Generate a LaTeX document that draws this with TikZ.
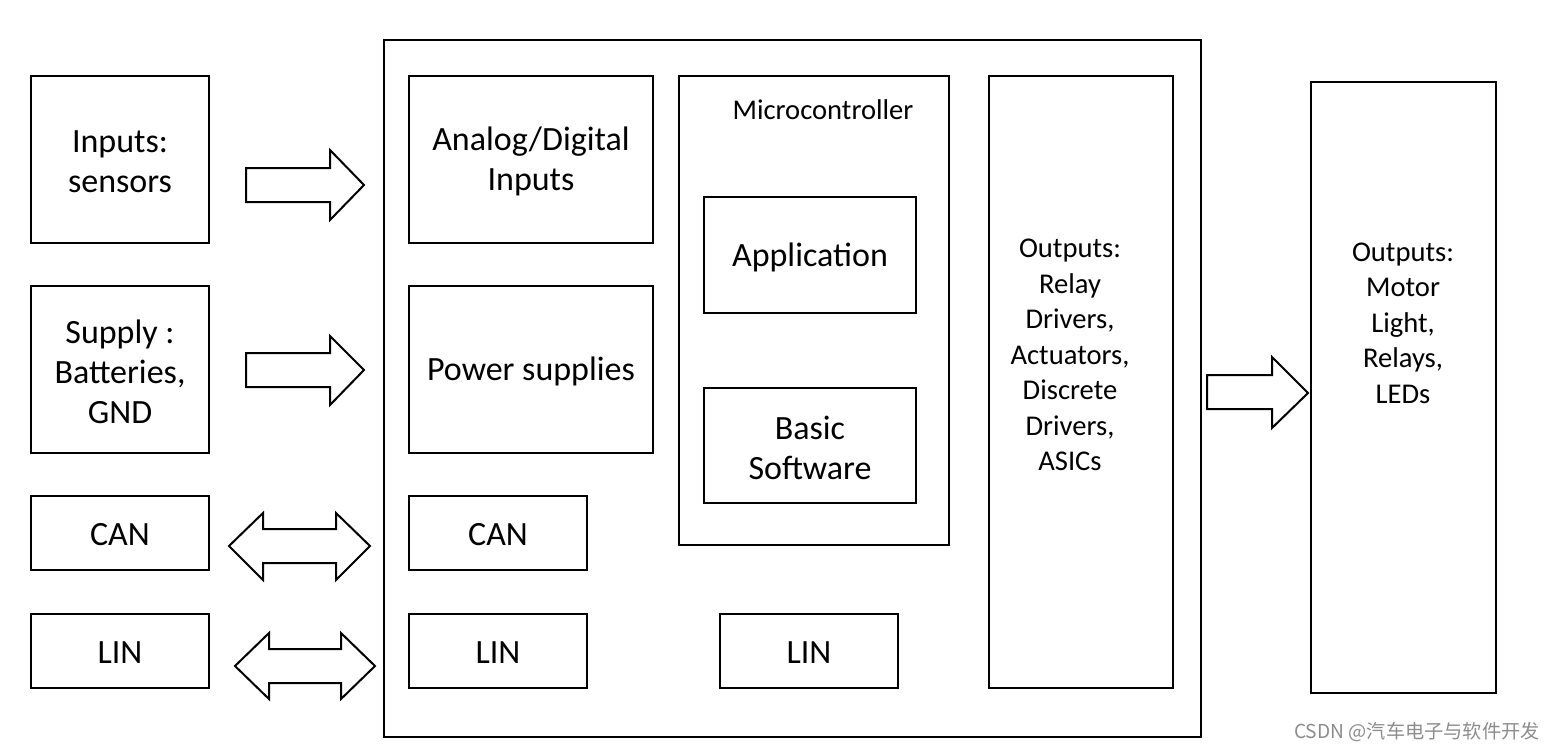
\documentclass[tikz,border=0pt]{standalone}
\usepackage{fontspec}
\setmainfont{Carlito}
\newfontfamily\cjk{Noto Sans CJK SC}
\begin{document}
\begin{tikzpicture}[x=0.5pt,y=-0.5pt,
  box/.style={draw, line width=1pt, inner sep=0pt},
  plain/.style={inner sep=0pt, align=center, yshift=-1pt, font=\fontsize{17}{20}\selectfont},
  small/.style={inner sep=0pt, align=center, font=\fontsize{14.3}{17.75}\selectfont},
  blk/.style={draw, line width=1pt, line join=miter, fill=white}]
\useasboundingbox (0,0) rectangle (1556,750);
% outer module
\node[box, minimum width=408.5pt, minimum height=348.5pt] (ecu) at (792.5,388.5) {};
% left side
\node[box, minimum width=89pt, minimum height=83.5pt, label={[plain]center:{Inputs:\\sensors}}] (sens) at (120,159.5) {};
\node[box, minimum width=89pt, minimum height=83.5pt, label={[plain]center:{Supply :\\Batteries,\\GND}}] (sup) at (120,369.5) {};
\node[box, minimum width=89pt, minimum height=37pt, label={[plain]center:CAN}] (canl) at (120,533) {};
\node[box, minimum width=89pt, minimum height=37pt, label={[plain]center:LIN}] (linl) at (120,651) {};
% inside
\node[box, minimum width=122pt, minimum height=83.5pt, label={[plain]center:{Analog/Digital\\Inputs}}] (adi) at (531,159.5) {};
\node[box, minimum width=122pt, minimum height=83.5pt, label={[plain]center:{Power supplies}}] (pwr) at (531,369.5) {};
\node[box, minimum width=89pt, minimum height=37pt, label={[plain]center:CAN}] (cani) at (498,533) {};
\node[box, minimum width=89pt, minimum height=37pt, label={[plain]center:LIN}] (lini) at (498,651) {};
\node[box, minimum width=135pt, minimum height=234.5pt] (mcu) at (814,310.5) {};
\node[small] (mcul) at (823,110) {Microcontroller};
\node[box, minimum width=106pt, minimum height=58pt, label={[plain]center:Application}] (app) at (810,255) {};
\node[box, minimum width=106pt, minimum height=57.5pt, label={[plain]center:{Basic\\Software}}] (bsw) at (810,445.5) {};
\node[box, minimum width=89pt, minimum height=37pt, label={[plain]center:LIN}] (linm) at (809,651) {};
\node[box, minimum width=92pt, minimum height=306pt] (outr) at (1081,382) {};
\node[small] (outrl) at (1070,355) {Outputs:\\Relay\\Drivers,\\Actuators,\\Discrete\\Drivers,\\ASICs};
% right side
\node[box, minimum width=92.5pt, minimum height=305.5pt] (outm) at (1403.5,387.5) {};
\node[small] (outml) at (1403,323) {Outputs:\\Motor\\Light,\\Relays,\\LEDs};
% block arrows
\draw[blk] (246,168) -- (330,168) -- (330,150) -- (364,185) -- (330,220) -- (330,202) -- (246,202) -- cycle;
\draw[blk] (246,353) -- (330,353) -- (330,336) -- (364,370) -- (330,405) -- (330,387) -- (246,387) -- cycle;
\draw[blk] (229,546) -- (263,513) -- (263,529) -- (336,529) -- (336,513) -- (370,546) -- (336,580) -- (336,563) -- (263,563) -- (263,580) -- cycle;
\draw[blk] (235,666) -- (269,633) -- (269,649) -- (341,649) -- (341,633) -- (375,666) -- (341,699) -- (341,683) -- (269,683) -- (269,699) -- cycle;
\draw[blk] (1207,375) -- (1272,375) -- (1272,357) -- (1308,393) -- (1272,428) -- (1272,409) -- (1207,409) -- cycle;
% watermark
\node[anchor=base east, inner sep=0pt, text=black!45, font=\cjk\fontsize{9.6}{10}\selectfont] (wm) at (1540,738) {CSDN @汽车电子与软件开发};
\end{tikzpicture}
\end{document}
